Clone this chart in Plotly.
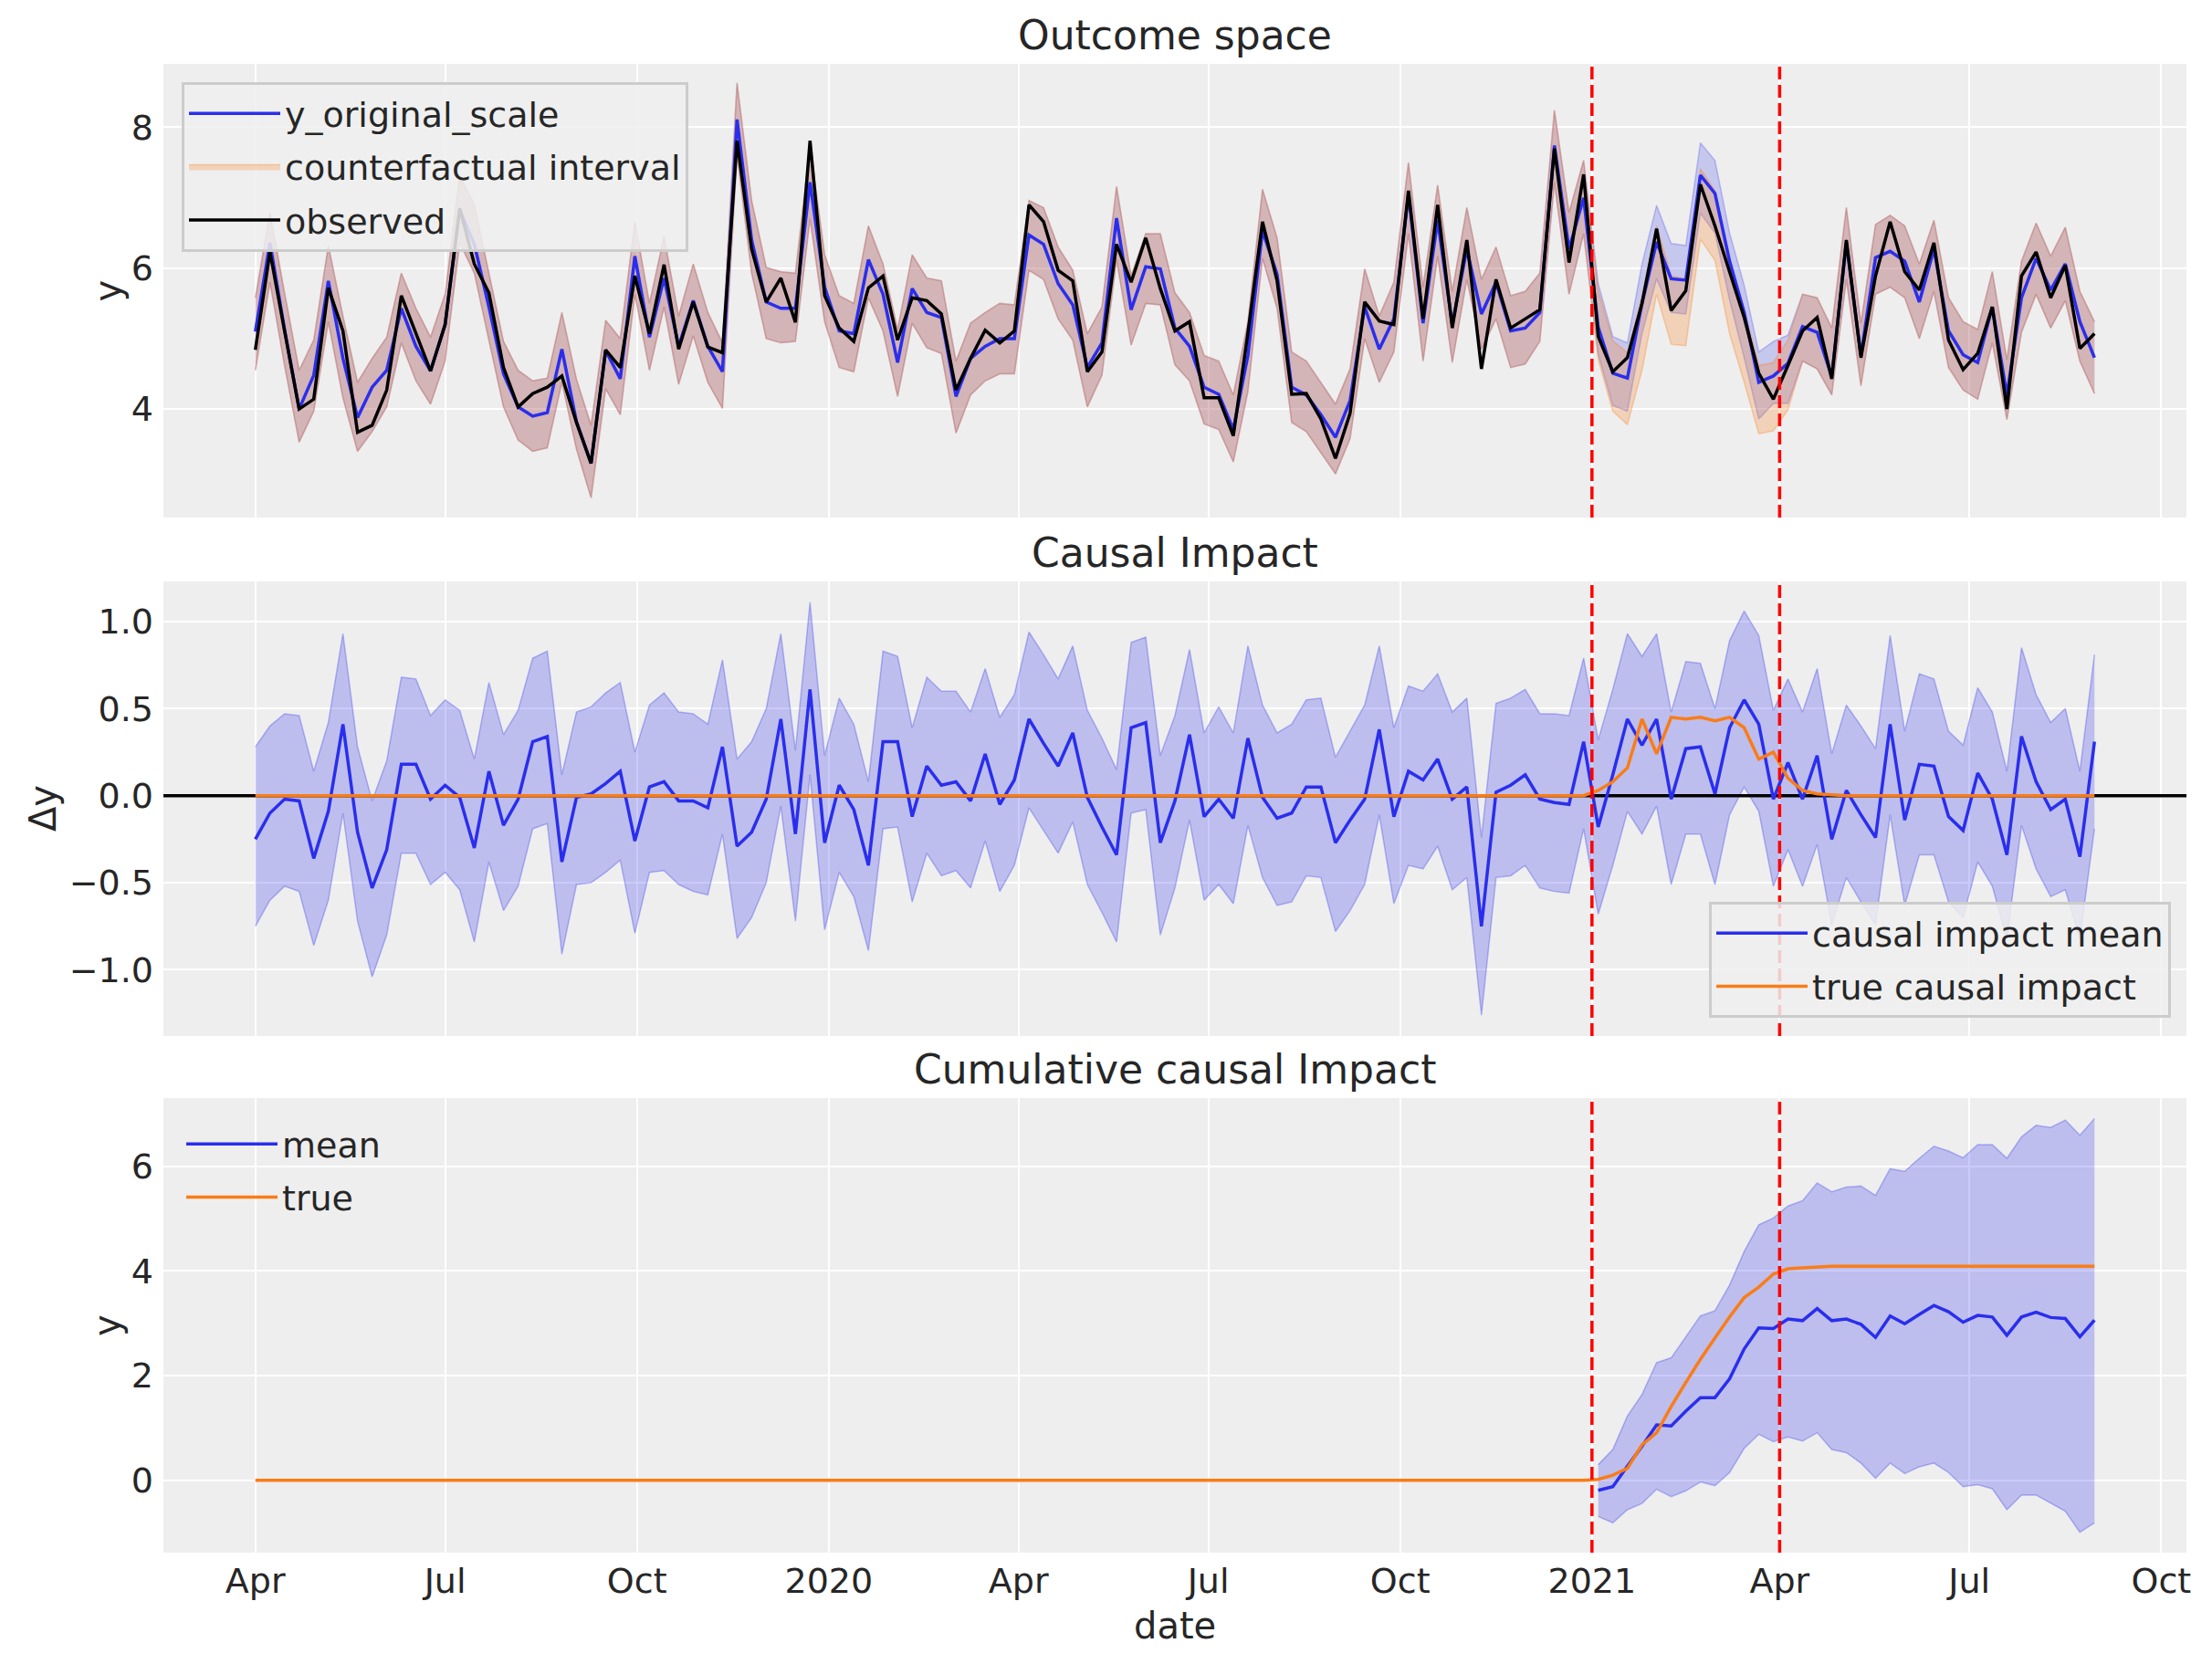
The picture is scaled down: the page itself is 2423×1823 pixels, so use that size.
import pandas as pd
import plotly.graph_objects as go
from plotly.subplots import make_subplots

# --- Data (weekly from 2019-04-01) ---
dates = pd.date_range(start="2019-04-01", periods=127, freq="7D")
treatment_start = "2021-01-01"
treatment_end = "2021-04-01"

observed = [
    4.84, 6.23, 5.11, 4.00, 4.14, 5.72, 5.11, 3.67, 3.77, 4.27,
    5.61, 5.07, 4.54, 5.20, 6.85, 6.06, 5.65, 4.59, 4.03, 4.22,
    4.31, 4.47, 3.81, 3.23, 4.84, 4.59, 5.89, 5.07, 6.05, 4.85,
    5.52, 4.88, 4.80, 7.81, 6.27, 5.52, 5.86, 5.23, 7.81, 5.61,
    5.15, 4.96, 5.72, 5.89, 4.98, 5.58, 5.54, 5.35, 4.27, 4.72,
    5.12, 4.94, 5.11, 6.90, 6.66, 5.97, 5.82, 4.53, 4.81, 6.34,
    5.80, 6.43, 5.71, 5.11, 5.24, 4.16, 4.16, 3.62, 5.08, 6.66,
    5.82, 4.21, 4.22, 3.86, 3.30, 3.94, 5.52, 5.25, 5.20, 7.10,
    5.28, 6.90, 5.15, 6.40, 4.57, 5.84, 5.15, 5.28, 5.41, 7.70,
    6.08, 7.33, 5.03, 4.53, 4.73, 5.50, 6.56, 5.40, 5.68, 7.19,
    6.60, 5.95, 5.30, 4.51, 4.14, 4.62, 5.11, 5.30, 4.43, 6.40,
    4.73, 5.89, 6.66, 5.95, 5.69, 6.36, 4.98, 4.56, 4.79, 5.45,
    4.00, 5.89, 6.23, 5.58, 6.04, 4.86, 5.07,
]

y_original_scale = [
    5.10, 6.36, 5.13, 4.00, 4.48, 5.82, 4.72, 3.88, 4.31, 4.55,
    5.43, 4.89, 4.54, 5.20, 6.83, 6.34, 5.45, 4.50, 4.03, 3.90,
    3.95, 4.85, 3.82, 3.23, 4.83, 4.43, 6.17, 5.02, 5.86, 4.89,
    5.54, 4.89, 4.53, 8.11, 6.40, 5.52, 5.43, 5.43, 7.22, 5.73,
    5.11, 5.07, 6.12, 5.63, 4.66, 5.71, 5.37, 5.30, 4.18, 4.72,
    4.89, 5.00, 5.00, 6.47, 6.34, 5.78, 5.48, 4.59, 4.94, 6.71,
    5.41, 6.02, 5.99, 5.15, 4.89, 4.31, 4.21, 3.71, 4.76, 6.53,
    5.91, 4.31, 4.20, 3.92, 3.60, 4.12, 5.45, 4.85, 5.28, 7.05,
    5.22, 6.68, 5.20, 6.27, 5.35, 5.80, 5.11, 5.15, 5.37, 7.74,
    6.27, 7.00, 5.16, 4.51, 4.44, 5.50, 6.37, 5.85, 5.83, 7.32,
    7.06, 6.10, 5.37, 4.38, 4.47, 4.65, 5.17, 5.09, 4.46, 6.36,
    4.76, 6.15, 6.24, 6.10, 5.52, 6.27, 5.11, 4.77, 4.66, 5.45,
    4.20, 5.58, 6.14, 5.69, 6.06, 5.24, 4.73,
]

counterfactual_upper = [
    5.58, 6.79, 5.65, 4.55, 4.98, 6.32, 5.32, 4.38, 4.72, 5.02,
    5.93, 5.43, 5.02, 5.63, 7.31, 6.90, 5.93, 4.96, 4.55, 4.40,
    4.44, 5.37, 4.42, 3.77, 5.26, 5.00, 6.66, 5.50, 6.45, 5.32,
    6.06, 5.37, 4.94, 8.63, 6.96, 6.01, 5.95, 5.93, 7.74, 6.19,
    5.61, 5.50, 6.60, 6.06, 5.13, 6.19, 5.86, 5.82, 4.68, 5.22,
    5.37, 5.50, 5.48, 6.96, 6.86, 6.30, 5.97, 5.07, 5.45, 7.16,
    5.89, 6.49, 6.49, 5.65, 5.37, 4.76, 4.68, 4.20, 5.24, 7.12,
    6.43, 4.81, 4.68, 4.38, 4.07, 4.57, 5.99, 5.32, 5.80, 7.50,
    5.73, 7.18, 5.67, 6.86, 5.84, 6.30, 5.61, 5.67, 5.93, 8.24,
    6.79, 7.53, 5.68, 4.97, 4.80, 5.60, 6.60, 5.89, 5.85, 7.41,
    7.10, 6.02, 5.42, 4.62, 4.66, 4.98, 5.63, 5.58, 5.15, 6.86,
    5.22, 6.62, 6.75, 6.60, 6.06, 6.68, 5.58, 5.24, 5.13, 5.95,
    4.70, 6.10, 6.64, 6.17, 6.58, 5.67, 5.24,
]

counterfactual_lower = [
    4.55, 5.80, 4.62, 3.53, 3.97, 5.24, 4.16, 3.40, 3.68, 4.03,
    4.94, 4.40, 4.07, 4.68, 6.36, 5.93, 4.98, 4.03, 3.56, 3.40,
    3.45, 4.38, 3.43, 2.74, 4.29, 3.92, 5.63, 4.55, 5.45, 4.35,
    5.04, 4.38, 4.01, 7.61, 5.93, 5.00, 4.94, 4.96, 6.70, 5.24,
    4.59, 4.53, 5.58, 5.11, 4.18, 5.22, 4.87, 4.79, 3.66, 4.20,
    4.40, 4.50, 4.50, 5.97, 5.84, 5.28, 4.98, 4.03, 4.48, 6.12,
    4.91, 5.50, 5.48, 4.63, 4.40, 3.79, 3.71, 3.25, 4.25, 6.14,
    5.43, 3.81, 3.68, 3.38, 3.08, 3.58, 5.00, 4.38, 4.81, 6.49,
    4.68, 6.17, 4.66, 5.84, 4.85, 5.28, 4.59, 4.64, 4.96, 7.22,
    5.63, 6.49, 4.70, 3.97, 3.78, 4.55, 5.63, 4.92, 4.90, 6.41,
    6.11, 5.07, 4.38, 3.65, 3.69, 3.99, 4.68, 4.57, 4.20, 5.84,
    4.33, 5.63, 5.73, 5.58, 5.00, 5.67, 4.59, 4.27, 4.14, 4.94,
    3.85, 5.09, 5.63, 5.15, 5.54, 4.68, 4.22,
]

# model-fit interval where it separates from the counterfactual (2021-01-04 .. 2021-04-05)
fit_upper_treatment = [5.78, 5.03, 4.94, 6.06, 6.89, 6.35, 6.32, 7.78, 7.53, 6.50, 5.76, 4.81, 4.96, 5.05]
fit_lower_treatment = [4.78, 4.05, 3.97, 5.07, 5.85, 5.37, 5.35, 6.78, 6.50, 5.55, 4.73, 3.86, 4.08, 4.08]

impact_mean = [
    -0.25, -0.10, -0.02, -0.03, -0.36, -0.09, 0.41, -0.21, -0.53, -0.31,
    0.18, 0.18, -0.02, 0.06, -0.01, -0.30, 0.14, -0.17, -0.02, 0.31,
    0.34, -0.38, -0.01, 0.01, 0.07, 0.14, -0.26, 0.05, 0.08, -0.03,
    -0.03, -0.07, 0.28, -0.29, -0.21, -0.02, 0.44, -0.22, 0.61, -0.27,
    0.06, -0.08, -0.40, 0.31, 0.31, -0.12, 0.17, 0.06, 0.08, -0.03,
    0.24, -0.05, 0.09, 0.44, 0.30, 0.17, 0.36, -0.01, -0.18, -0.34,
    0.39, 0.42, -0.27, -0.03, 0.35, -0.12, -0.02, -0.13, 0.33, -0.01,
    -0.13, -0.10, 0.05, 0.05, -0.27, -0.14, -0.02, 0.38, -0.12, 0.14,
    0.09, 0.21, -0.02, 0.05, -0.75, 0.02, 0.06, 0.12, -0.02, -0.04,
    -0.05, 0.31, -0.18, 0.12, 0.44, 0.29, 0.44, -0.02, 0.27, 0.28,
    0.01, 0.39, 0.55, 0.41, -0.02, 0.19, -0.02, 0.23, -0.25, 0.03,
    -0.11, -0.24, 0.41, -0.14, 0.18, 0.17, -0.12, -0.20, 0.13, -0.02,
    -0.34, 0.34, 0.08, -0.08, -0.02, -0.35, 0.31,
]

impact_upper = [
    0.28, 0.40, 0.47, 0.46, 0.14, 0.42, 0.93, 0.28, -0.03, 0.20,
    0.68, 0.67, 0.46, 0.55, 0.49, 0.21, 0.65, 0.35, 0.49, 0.79,
    0.83, 0.12, 0.48, 0.51, 0.59, 0.65, 0.25, 0.52, 0.59, 0.48,
    0.47, 0.41, 0.78, 0.21, 0.31, 0.50, 0.93, 0.26, 1.11, 0.23,
    0.56, 0.41, 0.08, 0.83, 0.80, 0.39, 0.68, 0.60, 0.60, 0.48,
    0.73, 0.45, 0.58, 0.94, 0.81, 0.67, 0.86, 0.49, 0.33, 0.15,
    0.88, 0.91, 0.23, 0.46, 0.84, 0.36, 0.51, 0.36, 0.86, 0.52,
    0.36, 0.41, 0.55, 0.56, 0.22, 0.37, 0.52, 0.86, 0.39, 0.63,
    0.60, 0.70, 0.48, 0.56, -0.24, 0.53, 0.56, 0.61, 0.47, 0.47,
    0.46, 0.79, 0.32, 0.61, 0.93, 0.80, 0.93, 0.48, 0.77, 0.76,
    0.50, 0.89, 1.06, 0.92, 0.49, 0.67, 0.48, 0.73, 0.24, 0.52,
    0.40, 0.27, 0.92, 0.37, 0.70, 0.67, 0.37, 0.29, 0.62, 0.48,
    0.14, 0.85, 0.58, 0.42, 0.50, 0.14, 0.81,
]

impact_lower = [
    -0.75, -0.60, -0.52, -0.55, -0.86, -0.60, -0.10, -0.72, -1.04, -0.80,
    -0.33, -0.33, -0.51, -0.44, -0.54, -0.84, -0.38, -0.66, -0.52, -0.19,
    -0.16, -0.91, -0.51, -0.50, -0.44, -0.37, -0.79, -0.44, -0.43, -0.51,
    -0.55, -0.57, -0.22, -0.82, -0.70, -0.50, -0.06, -0.72, 0.12, -0.77,
    -0.44, -0.58, -0.89, -0.19, -0.18, -0.61, -0.33, -0.46, -0.43, -0.53,
    -0.26, -0.55, -0.40, -0.07, -0.20, -0.33, -0.15, -0.51, -0.67, -0.84,
    -0.10, -0.08, -0.80, -0.53, -0.14, -0.60, -0.51, -0.62, -0.17, -0.47,
    -0.63, -0.61, -0.46, -0.47, -0.78, -0.66, -0.51, -0.11, -0.62, -0.40,
    -0.42, -0.29, -0.54, -0.47, -1.26, -0.47, -0.46, -0.40, -0.53, -0.55,
    -0.56, -0.19, -0.68, -0.40, -0.09, -0.22, -0.06, -0.51, -0.22, -0.22,
    -0.51, -0.11, 0.05, -0.09, -0.52, -0.31, -0.52, -0.28, -0.74, -0.47,
    -0.61, -0.74, -0.11, -0.63, -0.34, -0.34, -0.61, -0.70, -0.38, -0.52,
    -0.82, -0.17, -0.42, -0.58, -0.54, -0.82, -0.19,
]

true_impact = [
    0, 0, 0, 0, 0, 0, 0, 0, 0, 0, 0, 0, 0, 0, 0, 0, 0, 0, 0, 0,
    0, 0, 0, 0, 0, 0, 0, 0, 0, 0, 0, 0, 0, 0, 0, 0, 0, 0, 0, 0,
    0, 0, 0, 0, 0, 0, 0, 0, 0, 0, 0, 0, 0, 0, 0, 0, 0, 0, 0, 0,
    0, 0, 0, 0, 0, 0, 0, 0, 0, 0, 0, 0, 0, 0, 0, 0, 0, 0, 0, 0,
    0, 0, 0, 0, 0, 0, 0, 0, 0, 0, 0,
    0.0, 0.03, 0.08, 0.16, 0.44, 0.24, 0.45, 0.44, 0.45, 0.43,
    0.45, 0.39, 0.21, 0.25, 0.10, 0.03, 0.01, 0.005,
    0, 0, 0, 0, 0, 0, 0, 0, 0, 0, 0, 0, 0, 0, 0, 0, 0, 0,
]

# cumulative impact, post period only (from 2021-01-04)
cum_mean = [
    -0.19, -0.12, 0.27, 0.65, 1.06, 1.04, 1.32, 1.58, 1.58, 1.94,
    2.51, 2.91, 2.90, 3.08, 3.05, 3.28, 3.05, 3.08, 2.98, 2.73,
    3.14, 2.99, 3.17, 3.34, 3.22, 3.02, 3.15, 3.12, 2.77, 3.12,
    3.21, 3.11, 3.09, 2.74, 3.06,
]
cum_upper = [
    0.30, 0.59, 1.23, 1.64, 2.25, 2.34, 2.74, 3.14, 3.24, 3.73,
    4.37, 4.88, 5.01, 5.24, 5.34, 5.68, 5.51, 5.60, 5.62, 5.44,
    5.95, 5.90, 6.15, 6.38, 6.29, 6.16, 6.41, 6.41, 6.15, 6.56,
    6.78, 6.74, 6.88, 6.59, 6.91,
]
cum_lower = [
    -0.69, -0.81, -0.56, -0.44, -0.17, -0.31, -0.20, -0.03, -0.10, 0.15,
    0.61, 0.88, 0.74, 0.83, 0.75, 0.91, 0.59, 0.53, 0.33, 0.04,
    0.33, 0.13, 0.26, 0.33, 0.15, -0.12, -0.08, -0.16, -0.56, -0.28,
    -0.28, -0.44, -0.59, -0.99, -0.81,
]

true_cum = [
    0, 0, 0, 0, 0, 0, 0, 0, 0, 0, 0, 0, 0, 0, 0, 0, 0, 0, 0, 0,
    0, 0, 0, 0, 0, 0, 0, 0, 0, 0, 0, 0, 0, 0, 0, 0, 0, 0, 0, 0,
    0, 0, 0, 0, 0, 0, 0, 0, 0, 0, 0, 0, 0, 0, 0, 0, 0, 0, 0, 0,
    0, 0, 0, 0, 0, 0, 0, 0, 0, 0, 0, 0, 0, 0, 0, 0, 0, 0, 0, 0,
    0, 0, 0, 0, 0, 0, 0, 0, 0, 0, 0,
    0.0, 0.02, 0.10, 0.23, 0.68, 0.91, 1.41, 1.87, 2.31, 2.72,
    3.12, 3.49, 3.69, 3.94, 4.04, 4.06, 4.08,
    4.09, 4.09, 4.09, 4.09, 4.09, 4.09, 4.09, 4.09, 4.09, 4.09,
    4.09, 4.09, 4.09, 4.09, 4.09, 4.09, 4.09, 4.09, 4.09,
]

tick_dates = [
    "2019-04-01", "2019-07-01", "2019-10-01", "2020-01-01", "2020-04-01", "2020-07-01",
    "2020-10-01", "2021-01-01", "2021-04-01", "2021-07-01", "2021-10-01",
]
tick_labels = ["Apr", "Jul", "Oct", "2020", "Apr", "Jul", "Oct", "2021", "Apr", "Jul", "Oct"]

# --- Style ---
BLUE = "#2a2eec"
ORANGE = "#fa7c17"
FONT = "DejaVu Sans"
TEXT = "#262626"
PAGE_W, PAGE_H = 2423, 1823
OFF = 8  # page body margin
W, H = PAGE_W - 2 * OFF, PAGE_H - 2 * OFF


def px(x):
    return (x - OFF) / W


def py(y):
    return 1 - (y - OFF) / H


post_idx = 92  # first post-period week
post_dates = dates[post_idx:]
fit_upper = counterfactual_upper[:post_idx] + fit_upper_treatment + counterfactual_upper[post_idx + 14:]
fit_lower = counterfactual_lower[:post_idx] + fit_lower_treatment + counterfactual_lower[post_idx + 14:]

x_range = [pd.Timestamp("2019-04-01") - pd.Timedelta(days=44.1),
           pd.Timestamp("2021-08-30") + pd.Timedelta(days=44.1)]

fig = make_subplots(rows=3, cols=1, shared_xaxes=True)


def add_band(x, lower, upper, rgb, alpha, row, name=None, legend=None, rank=None):
    fig.add_trace(
        go.Scatter(
            x=x, y=lower, mode="lines",
            line=dict(color=f"rgba({rgb},{alpha + 0.05})", width=1.5),
            showlegend=False, hoverinfo="skip",
        ),
        row=row, col=1,
    )
    fig.add_trace(
        go.Scatter(
            x=x, y=upper, mode="lines", fill="tonexty",
            fillcolor=f"rgba({rgb},{alpha})",
            line=dict(color=f"rgba({rgb},{alpha + 0.05})", width=1.5),
            name=name, showlegend=name is not None,
            legend=legend, legendrank=rank, legendgroup=name, hoverinfo="skip",
        ),
        row=row, col=1,
    )


def add_line(x, y, name, color, legend, rank, row):
    fig.add_trace(
        go.Scatter(x=x, y=y, mode="lines", name=name, line=dict(color=color, width=3.5),
                   legend=legend, legendrank=rank, legendgroup=name),
        row=row, col=1,
    )


# --- Outcome space ---
add_band(dates, fit_lower, fit_upper, "42,46,236", 0.2, 1)
add_band(dates, counterfactual_lower, counterfactual_upper, "250,124,23", 0.25, 1,
         name="counterfactual interval", legend="legend", rank=2)
add_line(dates, y_original_scale, "y_original_scale", BLUE, "legend", 1, 1)
add_line(dates, observed, "observed", "black", "legend", 3, 1)

# --- Causal Impact ---
add_band(dates, impact_lower, impact_upper, "42,46,236", 0.25, 2)
# horizontal zero reference across the whole axis (axhline)
fig.add_trace(
    go.Scatter(x=x_range, y=[0, 0], mode="lines", line=dict(color="black", width=3.5),
               showlegend=False, hoverinfo="skip"),
    row=2, col=1,
)
add_line(dates, impact_mean, "causal impact mean", BLUE, "legend2", 1, 2)
add_line(dates, true_impact, "true causal impact", ORANGE, "legend2", 2, 2)

# --- Cumulative causal Impact ---
add_band(post_dates, cum_lower, cum_upper, "42,46,236", 0.25, 3)
add_line(post_dates, cum_mean, "mean", BLUE, "legend3", 1, 3)
add_line(dates, true_cum, "true", ORANGE, "legend3", 2, 3)

# treatment period markers
for xname, yname in [("x", "y"), ("x2", "y2"), ("x3", "y3")]:
    for d in [treatment_start, treatment_end]:
        fig.add_shape(type="line", xref=xname, yref=f"{yname} domain", x0=d, x1=d, y0=0, y1=1,
                      line=dict(color="red", width=3.5, dash="14px,6px"), layer="above")

# --- Layout ---
x_dom = [px(179), px(2395)]
panels = [(70, 567), (637, 1135), (1203, 1701)]
y_doms = [[py(b), py(t)] for t, b in panels]

axis_common = dict(
    showgrid=True, gridcolor="white", gridwidth=2, zeroline=False, showline=False,
    ticks="", tickfont=dict(family=FONT, size=38, color=TEXT), automargin=False,
)
for i in range(3):
    sfx = "" if i == 0 else str(i + 1)
    fig.layout["xaxis" + sfx].update(
        domain=x_dom, range=x_range, tickvals=tick_dates, ticktext=tick_labels,
        showticklabels=(i == 2), ticklabelstandoff=5, **axis_common,
    )
    fig.layout["yaxis" + sfx].update(domain=y_doms[i], ticklabelstandoff=10, **axis_common)

fig.update_layout(
    yaxis=dict(range=[2.46, 8.90], tickvals=[4, 6, 8]),
    yaxis2=dict(range=[-1.38, 1.23], tickvals=[-1, -0.5, 0, 0.5, 1],
                ticktext=["\u22121.0", "\u22120.5", "0.0", "0.5", "1.0"]),
    yaxis3=dict(range=[-1.38, 7.30], tickvals=[0, 2, 4, 6]),
)

titles = ["Outcome space", "Causal Impact", "Cumulative causal Impact"]
ylabels = [("y", 117), ("\u0394y", 47), ("y", 117)]
annotations = []
for i, (t, b) in enumerate(panels):
    annotations.append(dict(
        text=titles[i], xref="paper", yref="paper", x=(x_dom[0] + x_dom[1]) / 2,
        y=py(t - 32), xanchor="center", yanchor="middle", showarrow=False,
        font=dict(family=FONT, size=44, color=TEXT),
    ))
    label, lx = ylabels[i]
    annotations.append(dict(
        text=label, xref="paper", yref="paper", x=px(lx), y=py((t + b) / 2),
        xanchor="center", yanchor="middle", textangle=-90, showarrow=False,
        font=dict(family=FONT, size=40, color=TEXT),
    ))
annotations.append(dict(
    text="date", xref="paper", yref="paper", x=(x_dom[0] + x_dom[1]) / 2, y=py(1781),
    xanchor="center", yanchor="middle", showarrow=False,
    font=dict(family=FONT, size=40, color=TEXT),
))

legend_font = dict(family=FONT, size=38, color=TEXT)
legend_box = dict(bgcolor="rgba(238,238,238,0.85)", bordercolor="#cccccc", borderwidth=3,
                  font=legend_font, itemwidth=100, traceorder="grouped", tracegroupgap=6)
fig.update_layout(
    width=W,
    height=H,
    margin=dict(l=0, r=0, t=0, b=0),
    paper_bgcolor="white",
    plot_bgcolor="#eeeeee",
    font=dict(family=FONT, color=TEXT),
    annotations=annotations,
    showlegend=True,
    legend=dict(x=px(199), y=py(90), xanchor="left", yanchor="top", **legend_box),
    legend2=dict(x=px(2378), y=py(1115), xanchor="right", yanchor="bottom", **legend_box),
    legend3=dict(x=px(199), y=py(1222), xanchor="left", yanchor="top",
                 bgcolor="rgba(0,0,0,0)", borderwidth=0, font=legend_font, itemwidth=100,
                 traceorder="grouped", tracegroupgap=6),
)

fig.write_html("out.html")
